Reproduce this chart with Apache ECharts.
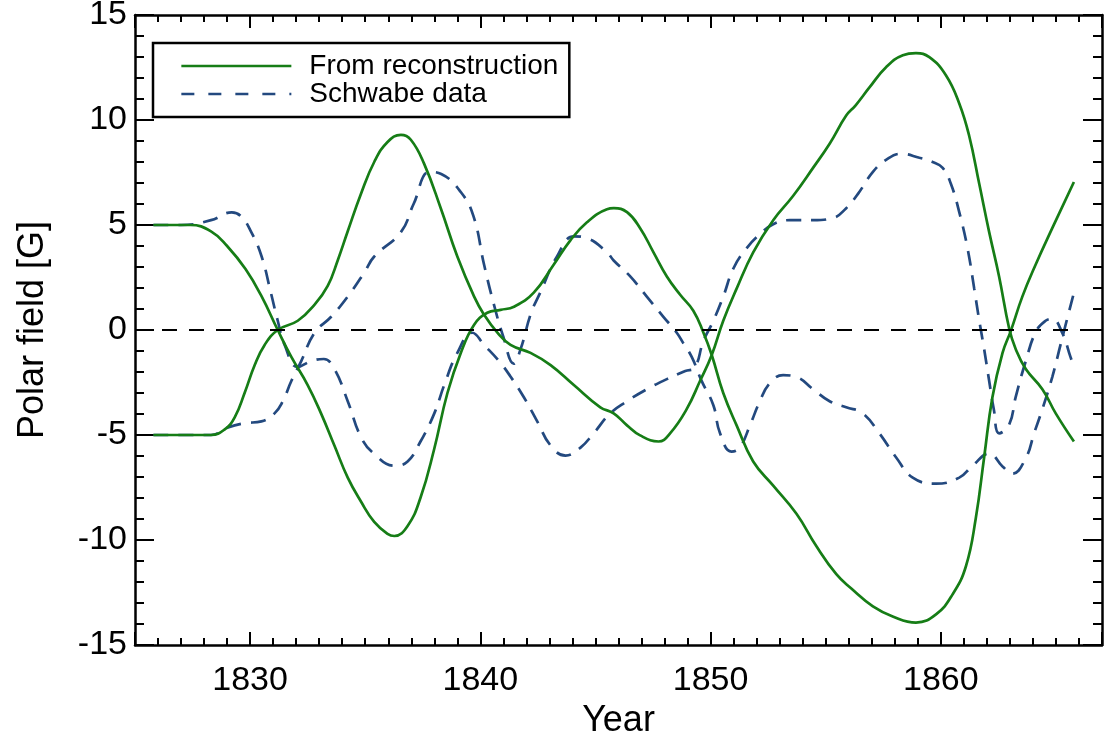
<!DOCTYPE html>
<html>
<head>
<meta charset="utf-8">
<title>Polar field</title>
<script src="https://cdn.jsdelivr.net/npm/echarts@6/dist/echarts.min.js"></script>
<style>
  html, body { margin: 0; padding: 0; background: #fff; }
  #chart { width: 1109px; height: 735px; }
</style>
</head>
<body>
<div id="chart"></div>
<script>
// [year, polar field in G]
var reconNorth = [
  [1825.8, 5.0], [1827.4, 5.0], [1828.3, 4.7], [1829.0, 4.0], [1829.8, 2.9], [1830.5, 1.6],
  [1831.2, 0.0], [1831.79, -1.28], [1832.5, -2.62], [1833.08, -3.97], [1833.66, -5.5],
  [1834.24, -7.03], [1834.82, -8.18], [1835.39, -9.14], [1835.97, -9.71], [1836.26, -9.81],
  [1836.84, -9.33], [1837.4, -7.99], [1837.99, -5.69], [1838.57, -3.0], [1839.15, -1.09],
  [1839.73, 0.25], [1840.3, 0.82], [1840.88, 0.96], [1841.46, 1.11], [1842.32, 1.78],
  [1843.19, 3.12], [1843.91, 4.27], [1844.63, 5.13], [1845.5, 5.75], [1845.8, 5.8],
  [1846.37, 5.61], [1846.94, 4.85], [1847.52, 3.7], [1848.1, 2.55], [1848.67, 1.69],
  [1849.25, 0.92], [1849.69, -0.13], [1850.05, -1.19], [1850.55, -3.0], [1851.13, -4.54],
  [1851.85, -6.26], [1852.72, -7.41], [1853.73, -8.75], [1854.59, -10.29], [1855.46, -11.63],
  [1856.1, -12.3], [1857.05, -13.16], [1857.91, -13.64], [1858.92, -13.93], [1859.79, -13.54],
  [1860.51, -12.59], [1861.09, -11.25], [1861.52, -8.95], [1861.88, -6.07], [1862.24, -3.2],
  [1862.68, -1.09], [1863.04, -0.04], [1863.54, 1.59], [1864.12, 3.12], [1864.84, 4.85],
  [1865.78, 7.05]
];
var reconSouth = [
  [1825.8, -5.0], [1828.3, -5.0], [1828.9, -4.73], [1829.33, -4.16], [1829.76, -3.0],
  [1830.2, -1.67], [1830.63, -0.71], [1831.2, 0.0], [1832.07, 0.44], [1832.8, 1.21],
  [1833.37, 2.1], [1833.8, 3.3], [1834.24, 4.7], [1834.82, 6.5], [1835.39, 8.0],
  [1835.97, 8.95], [1836.55, 9.29], [1836.98, 9.06], [1837.56, 7.91], [1838.28, 5.8],
  [1839.0, 3.5], [1839.73, 1.59], [1840.16, 0.73], [1840.74, -0.13], [1841.31, -0.71],
  [1842.18, -1.09], [1843.05, -1.67], [1844.06, -2.62], [1845.21, -3.68], [1845.79, -3.97],
  [1846.37, -4.54], [1846.94, -5.02], [1847.74, -5.31], [1848.24, -4.92], [1848.96, -3.77],
  [1849.54, -2.43], [1850.05, -1.19], [1850.55, 0.44], [1851.13, 1.97], [1851.85, 3.7],
  [1852.72, 5.23], [1853.58, 6.38], [1854.45, 7.72], [1855.17, 8.87], [1855.89, 10.21],
  [1856.3, 10.7], [1856.9, 11.55], [1857.62, 12.51], [1858.35, 13.08], [1858.92, 13.18],
  [1859.5, 12.99], [1860.22, 12.13], [1860.8, 10.79], [1861.23, 9.25], [1861.67, 6.95],
  [1862.1, 4.66], [1862.53, 2.55], [1862.97, 0.06], [1863.25, -0.9], [1863.69, -1.86],
  [1864.41, -2.82], [1864.99, -3.97], [1865.78, -5.31]
];
var schwabeNorth = [
  [1825.8, 5.0], [1827.0, 5.0], [1828.3, 5.23], [1829.2, 5.6], [1829.6, 5.42], [1830.05, 4.66],
  [1830.5, 3.5], [1830.9, 1.78], [1831.2, 0.44], [1831.5, -0.71], [1832.07, -1.76],
  [1832.65, -1.48], [1833.2, -1.38], [1833.66, -1.86], [1834.24, -3.39], [1834.82, -5.11],
  [1835.39, -5.9], [1836.26, -6.46], [1836.84, -6.26], [1837.4, -5.31], [1838.0, -3.97],
  [1838.43, -2.62], [1839.0, -1.09], [1839.65, -0.13], [1840.16, -0.71], [1840.81, -1.48],
  [1841.3, -2.2], [1841.89, -3.2], [1842.47, -4.35], [1843.05, -5.5], [1843.7, -5.98],
  [1844.35, -5.6], [1844.92, -4.92], [1845.64, -3.97], [1846.37, -3.39], [1847.23, -2.82],
  [1848.1, -2.34], [1848.9, -1.95], [1849.3, -1.8], [1849.69, -0.52], [1850.12, 0.44],
  [1850.55, 1.59], [1850.99, 2.93], [1851.56, 3.89], [1852.14, 4.56], [1852.72, 5.04],
  [1853.44, 5.23], [1854.45, 5.23], [1855.3, 5.33], [1855.89, 5.8], [1856.4, 6.48],
  [1857.05, 7.53], [1857.62, 8.1], [1858.27, 8.39], [1859.07, 8.2], [1859.64, 8.0],
  [1860.08, 7.72], [1860.44, 6.95], [1860.8, 5.61], [1861.16, 3.89], [1861.45, 1.97],
  [1861.67, 0.44], [1861.88, -0.9], [1862.1, -2.43], [1862.3, -3.77], [1862.53, -4.92],
  [1862.97, -4.5], [1863.25, -3.2], [1863.69, -1.48], [1864.12, -0.1], [1864.55, 0.44],
  [1864.84, 0.53], [1865.27, -0.13], [1865.63, -1.28], [1865.78, -1.76]
];
var schwabeSouth = [
  [1825.8, -5.0], [1828.3, -5.0], [1829.04, -4.64], [1829.76, -4.44], [1830.49, -4.35],
  [1831.06, -3.97], [1831.42, -3.39], [1831.79, -2.43], [1832.22, -1.48], [1832.8, -0.13],
  [1833.52, 0.63], [1834.24, 1.59], [1834.96, 2.74], [1835.39, 3.5], [1836.55, 4.66],
  [1837.1, 6.0], [1837.8, 7.53], [1838.3, 7.43], [1839.15, 6.57], [1839.7, 5.42],
  [1840.16, 3.12], [1840.59, 1.21], [1841.0, -0.33], [1841.45, -1.6], [1841.75, -0.9],
  [1842.2, 0.8], [1842.6, 1.78], [1843.33, 3.5], [1844.06, 4.46], [1844.63, 4.37],
  [1845.5, 3.7], [1845.79, 3.31], [1846.51, 2.55], [1847.23, 1.59], [1847.95, 0.63],
  [1848.53, -0.13], [1848.8, -0.6], [1849.18, -1.28], [1849.6, -2.4], [1850.12, -3.58],
  [1850.41, -4.92], [1850.91, -5.79], [1851.27, -5.59], [1851.71, -4.54], [1852.14, -3.39],
  [1852.57, -2.53], [1853.15, -2.15], [1853.73, -2.24], [1854.45, -2.82], [1855.17, -3.39],
  [1855.89, -3.68], [1856.61, -3.97], [1857.33, -4.92], [1858.06, -6.07], [1858.78, -7.03],
  [1859.79, -7.32], [1860.8, -7.03], [1861.38, -6.46], [1862.1, -5.88], [1862.68, -6.5],
  [1863.11, -6.84], [1863.69, -6.1], [1864.05, -4.92], [1864.41, -3.77], [1864.84, -2.24],
  [1865.2, -0.7], [1865.42, 0.25], [1865.78, 1.77]
];

var yearRange = [1825, 1867];
var fieldRange = [-15, 15];
var legendNames = ['From reconstruction', 'Schwabe data'];

var green = '#167d16';
var blue = '#23497f';
var font = 'Liberation Sans';

function xAxisOf(pos, showLabels) {
  return {
    type: 'value', position: pos, min: yearRange[0], max: yearRange[1],
    axisLine: { show: true, onZero: false, lineStyle: { color: '#000', width: 2.5 } },
    axisTick: { show: true, inside: true, length: 13, lineStyle: { color: '#000', width: 2 } },
    minorTick: { show: true, splitNumber: 10, length: 7, lineStyle: { color: '#000', width: 2 } },
    axisLabel: {
      show: showLabels, showMinLabel: false, showMaxLabel: false, margin: 19,
      fontSize: 34, fontFamily: font, color: '#000',
      formatter: function (v) { return String(v); }
    },
    splitLine: { show: false }
  };
}
function yAxisOf(pos, showLabels) {
  return {
    type: 'value', position: pos, min: fieldRange[0], max: fieldRange[1], interval: 5,
    axisLine: { show: true, onZero: false, lineStyle: { color: '#000', width: 2.5 } },
    axisTick: { show: true, inside: true, length: 19, lineStyle: { color: '#000', width: 2 } },
    minorTick: { show: true, splitNumber: 5, length: 9, lineStyle: { color: '#000', width: 2 } },
    axisLabel: { show: showLabels, margin: 8, fontSize: 34, fontFamily: font, color: '#000' },
    splitLine: { show: false }
  };
}

function curve(name, data, color, dashed) {
  return {
    name: name, type: 'line', data: data, xAxisIndex: 0, yAxisIndex: 0,
    smooth: 0.45, symbol: 'none', showSymbol: false, silent: true,
    lineStyle: { color: color, width: 2.7, type: dashed ? [15, 10] : 'solid' },
    itemStyle: { color: color },
    z: dashed ? 3 : 4
  };
}

var chart = echarts.init(document.getElementById('chart'));
var xBottom = xAxisOf('bottom', true);
xBottom.name = 'Year';
xBottom.nameLocation = 'middle';
xBottom.nameGap = 58;
xBottom.nameTextStyle = { fontSize: 36, fontFamily: font, color: '#000' };
var yLeft = yAxisOf('left', true);
yLeft.name = 'Polar field [G]';
yLeft.nameLocation = 'middle';
yLeft.nameGap = 84;
yLeft.nameTextStyle = { fontSize: 36, fontFamily: font, color: '#000' };

var north = curve(legendNames[0], reconNorth, green, false);
north.markLine = {
  silent: true, symbol: 'none', label: { show: false },
  lineStyle: { color: '#000', width: 2, type: [15, 12] },
  data: [{ yAxis: 0 }]
};

chart.setOption({
  animation: false,
  backgroundColor: '#fff',
  grid: { left: 135, right: 7, top: 15, bottom: 90, containLabel: false, outerBoundsMode: 'none' },
  xAxis: [xBottom, xAxisOf('top', false)],
  yAxis: [yLeft, yAxisOf('right', false)],
  legend: {
    orient: 'vertical', left: 153, top: 43,
    padding: [9, 11, 9, 27], itemGap: 0, itemWidth: 110, itemHeight: 14,
    borderColor: '#000', borderWidth: 2.5, borderRadius: 0, backgroundColor: '#fff',
    selectedMode: false,
    itemStyle: { opacity: 0 },
    textStyle: { fontSize: 28, fontFamily: font, color: '#000', padding: [0, 0, 0, 13] },
    data: [
      { name: legendNames[0], lineStyle: { width: 2.7 } },
      { name: legendNames[1], lineStyle: { width: 2.7, type: [13, 14] } }
    ]
  },
  series: [
    north,
    curve(legendNames[0], reconSouth, green, false),
    curve(legendNames[1], schwabeNorth, blue, true),
    curve(legendNames[1], schwabeSouth, blue, true)
  ]
});
</script>
</body>
</html>
